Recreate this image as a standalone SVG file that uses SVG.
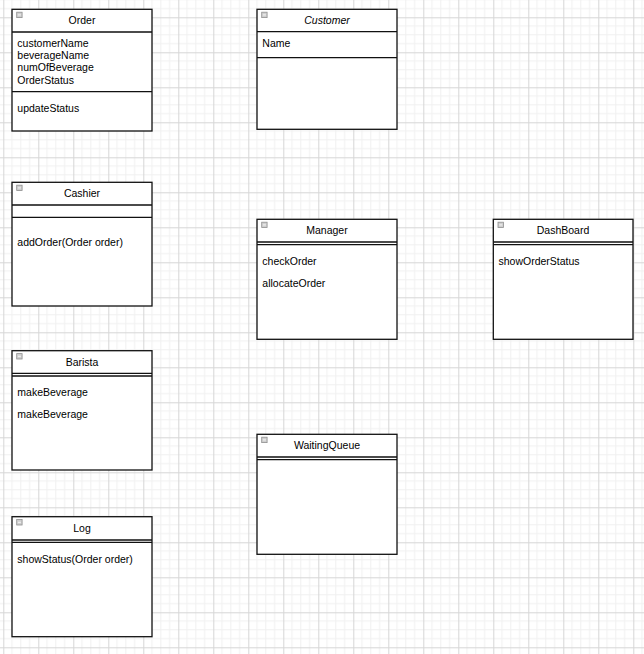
<svg xmlns="http://www.w3.org/2000/svg" width="644" height="654" viewBox="0 0 644 654">
<style>
.box{fill:#fff;stroke:#111;stroke-width:1.3}
.ln{stroke:#111;stroke-width:1.3;fill:none}
.t{font-family:"Liberation Sans",Arial,sans-serif;font-size:10.5px;fill:#000}
.c{text-anchor:middle}
.i{font-style:italic}
.ic{fill:#cfcfcf;stroke:#8f8f8f;stroke-width:0.8}
.icm{stroke:#f4f4f4;stroke-width:1}
</style>
<defs>
<pattern id="grid" patternUnits="userSpaceOnUse" x="3.3" y="17.3" width="35" height="35">
<path d="M8.75 0V35M17.5 0V35M26.25 0V35M0 8.75H35M0 17.5H35M0 26.25H35" stroke="#f0f0f0" stroke-width="1" fill="none"/>
<path d="M0.5 0V35M0 0.5H35" stroke="#d6d6d6" stroke-width="1" fill="none"/>
</pattern>
<g id="icon"><rect class="ic" x="0" y="0" width="5.4" height="5.4"/><path class="icm" d="M1.2 2.7H4.2"/></g>
</defs>
<rect width="644" height="654" fill="#fff"/>
<rect width="644" height="654" fill="url(#grid)"/>

<g id="Order">
<rect class="box" x="12" y="9.3" width="140" height="121.7"/>
<path class="ln" d="M12 32H152M12 91.7H152"/>
<use href="#icon" x="16.7" y="12.2"/>
<text class="t c" x="82" y="23.8">Order</text>
<text class="t" x="17.3" y="47">customerName</text>
<text class="t" x="17.3" y="58.8">beverageName</text>
<text class="t" x="17.3" y="71.2">numOfBeverage</text>
<text class="t" x="17.3" y="83.8">OrderStatus</text>
<text class="t" x="17.3" y="111.5">updateStatus</text>
</g>

<g id="Customer">
<rect class="box" x="257" y="9.3" width="140" height="120"/>
<path class="ln" d="M257 31.7H397M257 57.7H397"/>
<use href="#icon" x="261.7" y="12.2"/>
<text class="t c i" x="327" y="23.8">Customer</text>
<text class="t" x="262.3" y="47">Name</text>
</g>

<g id="Cashier">
<rect class="box" x="12" y="182.3" width="140" height="123.7"/>
<path class="ln" d="M12 205H152M12 217.3H152"/>
<use href="#icon" x="16.7" y="185.2"/>
<text class="t c" x="82" y="196.5">Cashier</text>
<text class="t" x="17.3" y="245.5">addOrder(Order order)</text>
</g>

<g id="Manager">
<rect class="box" x="257" y="219.3" width="140" height="120"/>
<path class="ln" d="M257 242H397M257 244.7H397"/>
<use href="#icon" x="261.7" y="222.2"/>
<text class="t c" x="327" y="233.8">Manager</text>
<text class="t" x="262.3" y="264.5">checkOrder</text>
<text class="t" x="262.3" y="287">allocateOrder</text>
</g>

<g id="DashBoard">
<rect class="box" x="493.3" y="219.3" width="139.7" height="120"/>
<path class="ln" d="M493.3 242H633M493.3 244.7H633"/>
<use href="#icon" x="498" y="222.2"/>
<text class="t c" x="563" y="233.8">DashBoard</text>
<text class="t" x="498.5" y="264.5">showOrderStatus</text>
</g>

<g id="Barista">
<rect class="box" x="12" y="350.7" width="140" height="119.3"/>
<path class="ln" d="M12 373.3H152M12 376H152"/>
<use href="#icon" x="16.7" y="353.6"/>
<text class="t c" x="82" y="365.5">Barista</text>
<text class="t" x="17.3" y="395.5">makeBeverage</text>
<text class="t" x="17.3" y="417.8">makeBeverage</text>
</g>

<g id="WaitingQueue">
<rect class="box" x="257" y="434.3" width="140" height="120"/>
<path class="ln" d="M257 457H397M257 459.7H397"/>
<use href="#icon" x="261.7" y="437.2"/>
<text class="t c" x="327" y="448.8">WaitingQueue</text>
</g>

<g id="Log">
<rect class="box" x="12" y="516.7" width="140" height="120"/>
<path class="ln" d="M12 540H152M12 542.3H152"/>
<use href="#icon" x="16.7" y="519.6"/>
<text class="t c" x="82" y="532">Log</text>
<text class="t" x="17.3" y="562.8">showStatus(Order order)</text>
</g>

<g id="connectors"></g>
</svg>
